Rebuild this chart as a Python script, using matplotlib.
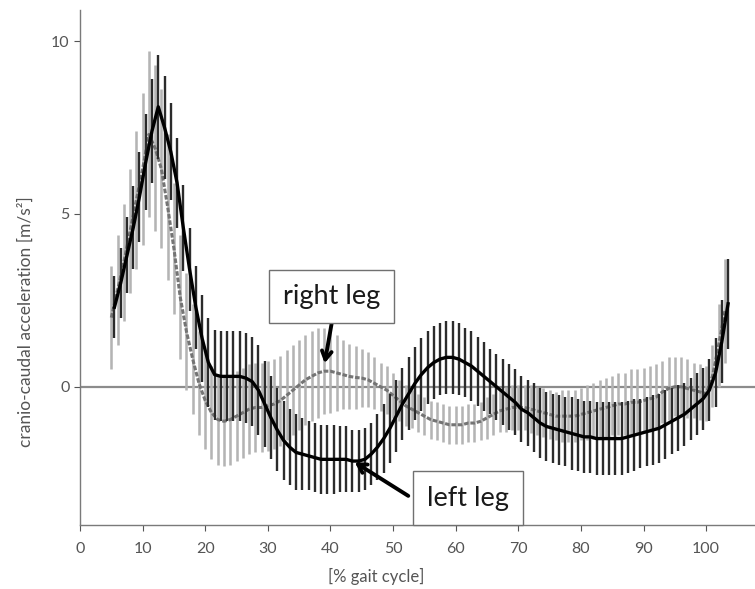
import matplotlib
matplotlib.use("Agg")
import matplotlib.pyplot as plt
import numpy as np

plt.rcParams['font.family'] = ['Lato', 'DejaVu Sans']

# % gait cycle sample points
gait = list(range(5, 104))

# right leg: mean and SD (m/s^2)
right_mean = [2.0, 2.8, 3.6, 4.5, 5.4, 6.3, 7.3, 6.9, 6.3, 5.2,
              4.0, 2.6, 1.6, 0.8, 0.1, -0.4, -0.75, -0.95, -1.0, -0.95,
              -0.85, -0.75, -0.65, -0.6, -0.6, -0.55, -0.5, -0.4, -0.25, -0.1,
              0.05, 0.2, 0.3, 0.4, 0.45, 0.45, 0.4, 0.35, 0.3, 0.27,
              0.25, 0.2, 0.1, 0.0, -0.1, -0.25, -0.4, -0.55, -0.65, -0.75,
              -0.85, -0.95, -1.0, -1.05, -1.1, -1.1, -1.1, -1.05, -1.05, -1.0,
              -0.9, -0.8, -0.7, -0.65, -0.6, -0.6, -0.6, -0.65, -0.7, -0.75,
              -0.8, -0.85, -0.85, -0.85, -0.85, -0.8, -0.75, -0.7, -0.65, -0.6,
              -0.55, -0.5, -0.5, -0.45, -0.45, -0.4, -0.35, -0.3, -0.15, -0.05,
              0.0, 0.0, -0.05, -0.1, -0.15, -0.2, 0.3, 1.2, 2.2]
right_sd = [1.5, 1.6, 1.7, 1.8, 2.0, 2.2, 2.4, 2.4, 2.3, 2.1,
            1.9, 1.8, 1.7, 1.6, 1.5, 1.4, 1.35, 1.3, 1.3, 1.3,
            1.3, 1.3, 1.3, 1.3, 1.3, 1.3, 1.3, 1.3, 1.3, 1.3,
            1.3, 1.3, 1.3, 1.3, 1.25, 1.2, 1.1, 1.0, 0.95, 0.9,
            0.85, 0.8, 0.75, 0.7, 0.7, 0.65, 0.6, 0.6, 0.55, 0.55,
            0.55, 0.55, 0.55, 0.55, 0.55, 0.55, 0.55, 0.55, 0.55, 0.55,
            0.6, 0.6, 0.6, 0.65, 0.65, 0.65, 0.65, 0.7, 0.7, 0.7,
            0.7, 0.7, 0.75, 0.75, 0.75, 0.75, 0.8, 0.8, 0.85, 0.85,
            0.85, 0.9, 0.9, 0.95, 0.95, 0.95, 0.95, 0.95, 0.9, 0.9,
            0.85, 0.85, 0.85, 0.8, 0.8, 0.8, 0.9, 1.2, 1.5]

# left leg: mean and SD (m/s^2)
left_mean = [2.3, 3.0, 3.8, 4.6, 5.5, 6.5, 7.4, 8.1, 7.5, 6.8,
             5.9, 4.6, 3.4, 2.3, 1.4, 0.7, 0.35, 0.3, 0.3, 0.3,
             0.3, 0.25, 0.15, -0.1, -0.5, -0.9, -1.25, -1.55, -1.75, -1.9,
             -1.95, -2.0, -2.05, -2.1, -2.1, -2.1, -2.1, -2.1, -2.15, -2.15,
             -2.1, -1.95, -1.75, -1.5, -1.2, -0.85, -0.5, -0.2, 0.1, 0.35,
             0.55, 0.7, 0.8, 0.85, 0.85, 0.8, 0.7, 0.6, 0.45, 0.3,
             0.15, 0.0, -0.15, -0.3, -0.45, -0.65, -0.75, -0.9, -1.05, -1.15,
             -1.2, -1.25, -1.3, -1.35, -1.4, -1.45, -1.45, -1.5, -1.5, -1.5,
             -1.5, -1.5, -1.45, -1.4, -1.35, -1.3, -1.25, -1.2, -1.1, -1.0,
             -0.9, -0.8, -0.65, -0.5, -0.35, -0.1, 0.4, 1.3, 2.4]
left_sd = [0.9, 1.0, 1.1, 1.2, 1.3, 1.4, 1.5, 1.5, 1.5, 1.4,
           1.3, 1.25, 1.2, 1.2, 1.25, 1.3, 1.3, 1.3, 1.3, 1.3,
           1.3, 1.3, 1.3, 1.3, 1.25, 1.2, 1.2, 1.15, 1.1, 1.1,
           1.05, 1.0, 1.0, 1.0, 1.0, 1.0, 0.95, 0.95, 0.9, 0.9,
           0.9, 0.9, 0.95, 1.0, 1.0, 1.05, 1.05, 1.05, 1.05, 1.05,
           1.05, 1.05, 1.05, 1.05, 1.05, 1.05, 1.0, 1.0, 1.0, 1.0,
           0.95, 0.95, 0.95, 0.95, 0.95, 0.95, 0.95, 1.0, 1.0, 1.0,
           1.0, 1.0, 1.0, 1.05, 1.05, 1.05, 1.05, 1.05, 1.05, 1.05,
           1.05, 1.05, 1.05, 1.05, 1.0, 1.0, 1.0, 1.0, 1.0, 0.95,
           0.95, 0.9, 0.9, 0.9, 0.9, 0.9, 1.0, 1.2, 1.3]

x_ticks = [0, 10, 20, 30, 40, 50, 60, 70, 80, 90, 100]
y_ticks = [0, 5, 10]

x_r = np.array(gait, dtype=float)
x_l = x_r + 0.5  # left leg bars sit between the right leg bars
rm, rs = np.array(right_mean), np.array(right_sd)
lm, ls = np.array(left_mean), np.array(left_sd)

fig = plt.figure(figsize=(7.55, 5.89), dpi=100)
ax = fig.add_axes([80 / 755, 64 / 589, 675 / 755, 515 / 589])

ax.axhline(0, color='#8c8c8c', lw=1.6, zorder=1)

# right leg
ax.vlines(x_r, rm - rs, rm + rs, color='#b4b4b4', lw=1.85, zorder=2)
ax.plot(x_r, rm, color='#747474', lw=2.2, ls=(0, (1.5, 0.6)), zorder=3)

# left leg
ax.vlines(x_l, lm - ls, lm + ls, color='#2b2b2b', lw=1.7, zorder=4)
ax.plot(x_l, lm, color='black', lw=2.4, zorder=5)

box = dict(boxstyle='square,pad=0.52', fc='white', ec='#707070', lw=1.0)
arrow = dict(arrowstyle='->,head_length=0.6,head_width=0.35',
             color='black', lw=2.8)
ax.annotate('', xy=(39.0, 0.6), xytext=(40.3, 1.95),
            arrowprops=arrow, zorder=6)
ax.text(40.2, 2.62, 'right leg', fontsize=19.5, color='#1a1a1a',
        ha='center', va='center', bbox=box, zorder=7)
ax.annotate('', xy=(43.5, -2.14), xytext=(52.8, -3.2),
            arrowprops=arrow, zorder=6)
ax.text(61.9, -3.22, 'left leg', fontsize=19.5, color='#1a1a1a',
        ha='center', va='center', bbox=box, zorder=7)

ax.set_xlim(0, 107.8)
ax.set_ylim(-4.0, 10.9)
ax.set_xticks(x_ticks)
ax.set_yticks(y_ticks)
ax.tick_params(axis='both', colors='#555555', labelsize=11.5, length=4, width=0.8)
ax.tick_params(axis='x', pad=8)
for side in ['top', 'right']:
    ax.spines[side].set_visible(False)
for side in ['left', 'bottom']:
    ax.spines[side].set_color('#7a7a7a')
    ax.spines[side].set_linewidth(1.0)

fig.text(376 / 755, 1 - 576 / 589, '[% gait cycle]', fontsize=12,
         color='#555555', ha='center', va='center')
fig.text(26 / 755, 1 - 322 / 589, 'cranio-caudal acceleration [m/s²]',
         fontsize=12.5, color='#555555', ha='center', va='center', rotation=90)

fig.savefig('out.png', dpi=100)
